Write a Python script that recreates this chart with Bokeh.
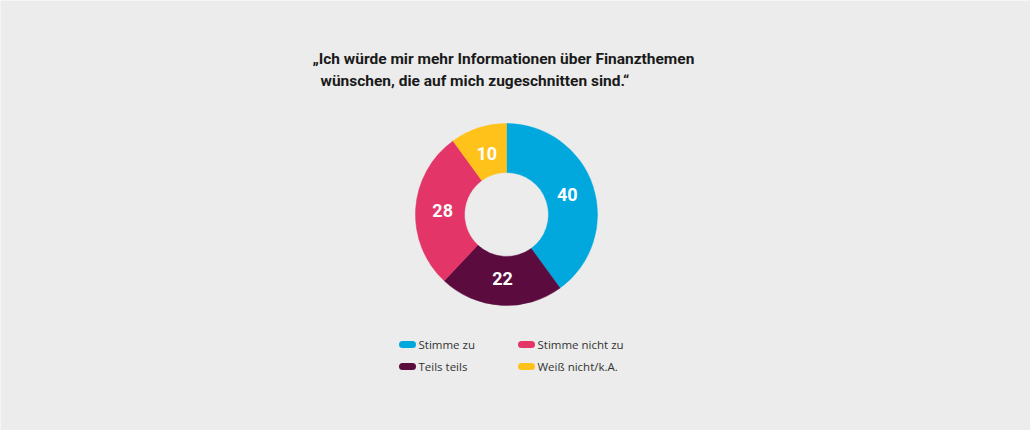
import numpy as np
from bokeh.plotting import figure
from bokeh.models import Range1d, ColumnDataSource
from bokeh.core.properties import value
from bokeh.embed import file_html
from bokeh.resources import INLINE

# data
categories = ["Stimme zu", "Teils teils", "Stimme nicht zu", "Weiß nicht/k.A."]
values = [40, 22, 28, 10]
colors = ["#00A8DE", "#5B0B3E", "#E33567", "#FFC21A"]
legend_order = ["Stimme zu", "Stimme nicht zu", "Teils teils", "Weiß nicht/k.A."]
title_lines = ["\u201eIch würde mir mehr Informationen über Finanzthemen",
               "wünschen, die auf mich zugeschnitten sind.\u201c"]

W, H = 1030, 430
BG = "#EBECEB"
p = figure(width=W, height=H, output_backend="svg", toolbar_location=None,
           x_range=Range1d(0, W), y_range=Range1d(H, 0), min_border=0)
p.background_fill_color = BG
p.border_fill_color = BG
p.outline_line_color = None
p.axis.visible = False
p.grid.visible = False

# donut (clockwise from 12 o'clock)
cx, cy = 506, 214
r_in, r_out = 42, 91
vals = np.array(values, dtype=float)
frac = vals / vals.sum()
cum_end = np.cumsum(frac)
cum_start = cum_end - frac
start = np.pi / 2 - 2 * np.pi * cum_end
end = np.pi / 2 - 2 * np.pi * cum_start
src = ColumnDataSource(dict(start=start, end=end, color=colors, cat=categories))
p.annular_wedge(x=cx, y=cy, inner_radius=r_in, outer_radius=r_out,
                start_angle="start", end_angle="end", direction="anticlock",
                fill_color="color", line_color="color", line_width=0.5, source=src)

mid = (start + end) / 2
r_lab = 64
lx = cx + r_lab * np.cos(mid)
ly = cy - r_lab * np.sin(mid)
p.text(x=lx, y=ly, text=[str(v) for v in values], text_color="white",
       text_font=value("Roboto"), text_font_style="bold", text_font_size="18px",
       text_align="center", text_baseline="middle")

# title
p.text(x=[312, 320], y=[58, 80], text=title_lines, text_color="#1a1a1a",
       text_font=value("Roboto"), text_font_style="bold", text_font_size="15.5px",
       text_align="left", text_baseline="middle")

# legend
lx0 = [407, 526, 407, 526]
ly0 = [344, 344, 366, 366]
lcol = [colors[categories.index(c)] for c in legend_order]
p.segment(x0=[x - 5 for x in lx0], y0=ly0, x1=[x + 5 for x in lx0], y1=ly0,
          line_color=lcol, line_width=7, line_cap="round")
p.text(x=[x + 11 for x in lx0], y=ly0, text=legend_order, text_color="#333333",
       text_font=value("Open Sans"), text_font_size="11.5px",
       text_align="left", text_baseline="middle")

open("out.html", "w").write(file_html(p, INLINE))
